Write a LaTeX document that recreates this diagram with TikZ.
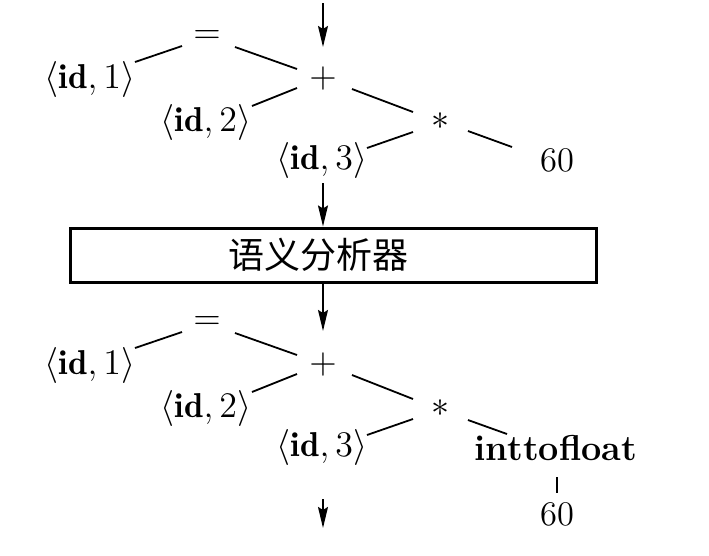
\documentclass[tikz,border=0pt]{standalone}
\usepackage{fontspec}
\newfontfamily\cjk{Noto Sans CJK SC}
\usetikzlibrary{arrows.meta}
\begin{document}
\begin{tikzpicture}[x=0.33333pt,y=-0.33333pt,
  lbl/.style={inner sep=0pt,font=\fontsize{11.5}{14}\selectfont},
  edge/.style={line width=0.6pt},
  arr/.style={line width=0.7pt,-{Stealth[length=7pt,width=3.3pt,inset=1pt]}},
  stagebox/.style={draw,line width=1pt,minimum width=175pt,minimum height=18pt,inner sep=0pt,font=\cjk\fontsize{12}{14}\selectfont}]
\useasboundingbox (0,0) rectangle (709,555);
% ---- first tree ----
\node[lbl] (eqA)   at (207,37)  {$=$};
\node[lbl] (idAa)  at (90,79)   {$\langle\mathbf{id},1\rangle$};
\node[lbl] (plusA) at (323,78)  {$+$};
\node[lbl] (idAb)  at (206,122) {$\langle\mathbf{id},2\rangle$};
\node[lbl] (starA) at (440,121) {$*$};
\node[lbl] (idAc)  at (322,160) {$\langle\mathbf{id},3\rangle$};
\node[lbl] (numA)  at (557,160) {60};
\draw[edge] ([shift={(-25,9)}]eqA.center) -- ([shift={(45,-17)}]idAa.center);
\draw[edge] ([shift={(28,10)}]eqA.center) -- ([shift={(-26,-9)}]plusA.center);
\draw[edge] ([shift={(-26,10)}]plusA.center) -- ([shift={(46,-16)}]idAb.center);
\draw[edge] ([shift={(29,11)}]plusA.center) -- ([shift={(-27,-9)}]starA.center);
\draw[edge] ([shift={(-27,11)}]starA.center) -- ([shift={(45,-12)}]idAc.center);
\draw[edge] ([shift={(28,10)}]starA.center) -- ([shift={(-45,-13)}]numA.center);
% ---- box ----
\node[stagebox] (box) at (333.5,255) {语义分析器\hspace*{10.3pt}};
% ---- second tree ----
\node[lbl] (eqB)   at (207,323) {$=$};
\node[lbl] (idBa)  at (90,365)  {$\langle\mathbf{id},1\rangle$};
\node[lbl] (plusB) at (323,364) {$+$};
\node[lbl] (idBb)  at (206,408) {$\langle\mathbf{id},2\rangle$};
\node[lbl] (starB) at (440,408) {$*$};
\node[lbl] (idBc)  at (322,447) {$\langle\mathbf{id},3\rangle$};
\node[lbl,font=\bfseries\fontsize{12}{14}\selectfont] (itf) at (556,448) {inttofloat};
\node[lbl] (numB)  at (557,514) {60};
\draw[edge] ([shift={(-25,9)}]eqB.center) -- ([shift={(45,-17)}]idBa.center);
\draw[edge] ([shift={(28,10)}]eqB.center) -- ([shift={(-26,-9)}]plusB.center);
\draw[edge] ([shift={(-26,10)}]plusB.center) -- ([shift={(46,-16)}]idBb.center);
\draw[edge] ([shift={(29,11)}]plusB.center) -- ([shift={(-27,-9)}]starB.center);
\draw[edge] ([shift={(-27,11)}]starB.center) -- ([shift={(45,-12)}]idBc.center);
\draw[edge] ([shift={(28,12)}]starB.center) -- ([shift={(-49,-14)}]itf.center);
\draw[edge] ([shift={(1,29)}]itf.center) -- ([shift={(0,-21)}]numB.center);
% ---- arrows ----
\coordinate (inTop) at (323,3);
\draw[arr] (inTop) -- ([shift={(0,-31)}]plusA.center);
\draw[arr] ([shift={(1,23)}]idAc.center) -- (box.north -| plusA);
\draw[arr] (box.south -| plusB) -- ([shift={(0,-33)}]plusB.center);
\coordinate (outS) at (323,499);
\coordinate (outE) at (323,528);
\draw[arr] (outS) -- (outE);
\end{tikzpicture}
\end{document}
